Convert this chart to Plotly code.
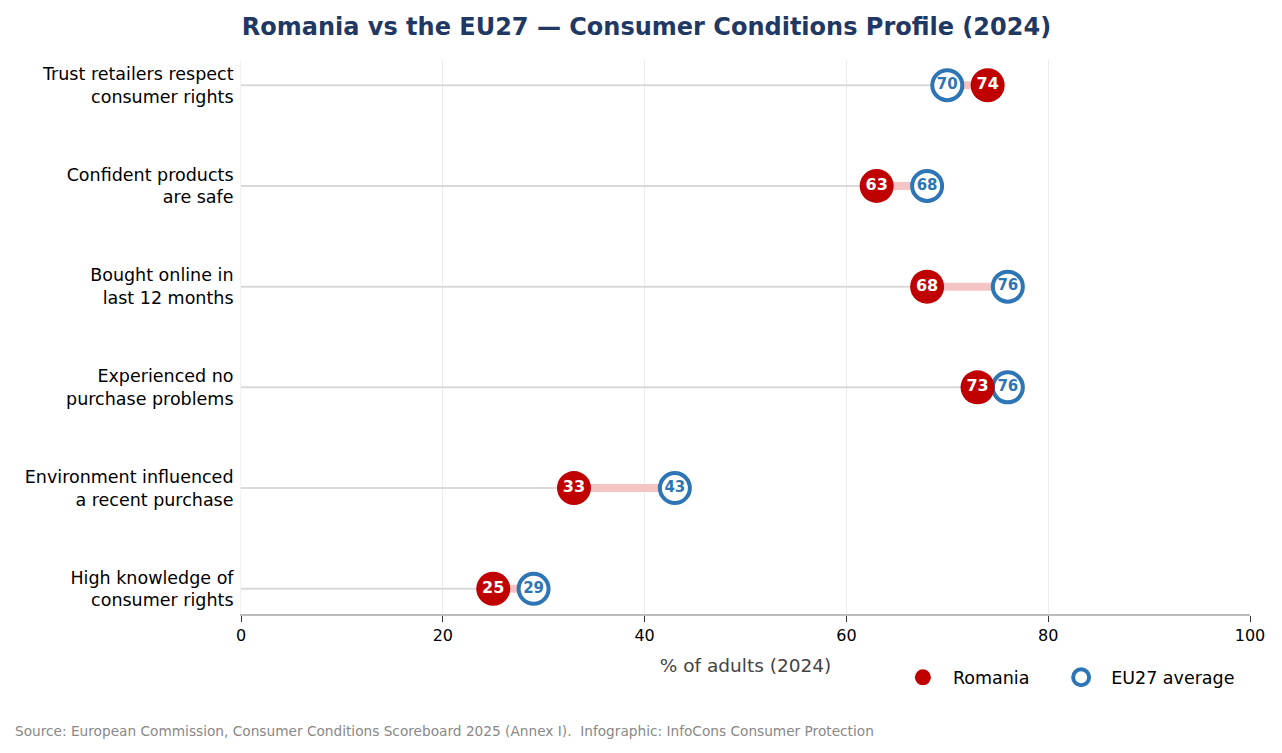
import plotly.graph_objects as go

categories = [
    "Trust retailers respect<br>consumer rights",
    "Confident products<br>are safe",
    "Bought online in<br>last 12 months",
    "Experienced no<br>purchase problems",
    "Environment influenced<br>a recent purchase",
    "High knowledge of<br>consumer rights",
]
romania = [74, 63, 68, 73, 33, 25]
eu27 = [70, 68, 76, 76, 43, 29]

RED = "#c00000"
BLUE = "#2e75b6"
PINK = "#f4c4c4"
GREY_LINE = "#d9d9d9"
FONT = "DejaVu Sans"

fig = go.Figure()

# connectors: grey from zero to the lower value, pink for the gap
for cat, ro, eu in zip(categories, romania, eu27):
    lo, hi = min(ro, eu), max(ro, eu)
    fig.add_trace(
        go.Scatter(
            x=[0, lo], y=[cat, cat], mode="lines",
            line=dict(color=GREY_LINE, width=2),
            showlegend=False, hoverinfo="skip",
        )
    )
    fig.add_trace(
        go.Scatter(
            x=[lo, hi], y=[cat, cat], mode="lines",
            line=dict(color=PINK, width=8),
            showlegend=False, hoverinfo="skip",
        )
    )

fig.add_trace(
    go.Scatter(
        x=eu27, y=categories, mode="markers+text", name="EU27 average",
        marker=dict(size=30, color="white", line=dict(color=BLUE, width=4)),
        text=[str(v) for v in eu27], textposition="middle center",
        textfont=dict(family=FONT, size=15, color=BLUE, weight="bold"),
    )
)
fig.add_trace(
    go.Scatter(
        x=romania, y=categories, mode="markers+text",
        name="Romania\u00a0\u00a0\u00a0",  # padding before next legend item
        marker=dict(size=34, color=RED),
        text=[str(v) for v in romania], textposition="middle center",
        textfont=dict(family=FONT, size=16, color="white", weight="bold"),
    )
)

fig.update_layout(
    width=1282, height=753,
    paper_bgcolor="white", plot_bgcolor="white",
    font=dict(family=FONT, size=16, color="black"),
    margin=dict(l=233, r=40, t=52, b=147),
    title=dict(
        text="<b>Romania vs the EU27 — Consumer Conditions Profile (2024)</b>",
        x=0.498, xanchor="center", y=0.975, yanchor="middle",
        font=dict(family=FONT, size=24, color="#1f3864"),
    ),
    xaxis=dict(
        range=[0, 100], tickvals=[0, 20, 40, 60, 80, 100],
        showgrid=True, gridcolor="#ebebeb", gridwidth=1,
        showline=True, linecolor="#bdbdbd", linewidth=2,
        ticks="outside", ticklen=6, tickcolor="#333", tickwidth=1,
        tickfont=dict(size=16), zeroline=False,
        title=dict(text="% of adults (2024)", font=dict(size=18.5, color="#444"), standoff=15),
    ),
    yaxis=dict(
        categoryorder="array", categoryarray=categories,
        autorange=False, range=[5.25, -0.25],
        showgrid=False, zeroline=False,
        showline=True, linecolor="#f2f2f2", linewidth=1,
        ticks="", ticklabelstandoff=3, tickfont=dict(size=17.5),
    ),
    legend=dict(
        orientation="h", x=0.99, xanchor="right", y=-0.082, yanchor="top",
        font=dict(size=17.5), traceorder="reversed",
        itemsizing="trace", itemwidth=50,
    ),
)

fig.add_annotation(
    text="Source: European Commission, Consumer Conditions Scoreboard 2025 (Annex I).  Infographic: InfoCons Consumer Protection",
    xref="paper", yref="paper", x=-0.226, y=-0.211, xanchor="left", yanchor="middle",
    showarrow=False, font=dict(size=13.7, color="#888"),
)

fig.write_html("out.html")
